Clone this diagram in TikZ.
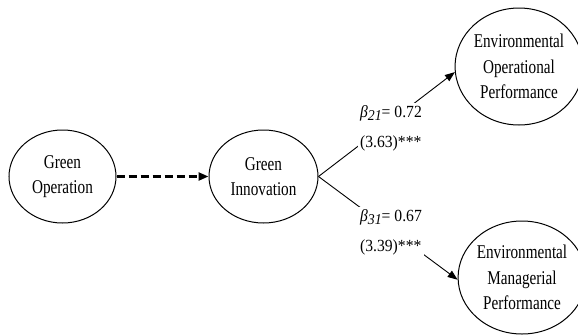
\documentclass[tikz,border=0pt]{standalone}
\usepackage{fontspec}
\setmainfont{Liberation Serif}[FakeStretch=0.78]
\newfontfamily\labfont{Liberation Serif}[FakeStretch=0.92]
\usetikzlibrary{arrows.meta,shapes.geometric}
\begin{document}
\begin{tikzpicture}[x=1pt,y=-1pt,
  var/.style={draw,ellipse,inner sep=0pt,align=center,line width=1pt,
    font=\fontsize{19.5}{25.5}\selectfont},
  lab/.style={fill=white,inner sep=2pt,align=left,
    font=\labfont\fontsize{17}{30}\selectfont},
  conn/.style={-{Triangle[length=10pt,width=7.5pt]},line width=0.9pt},
  dconn/.style={-{Triangle[length=10pt,width=8pt]},line width=2.3pt,dash pattern=on 8pt off 4pt},
]
\useasboundingbox (0,0) rectangle (578,335);
\node[var,minimum width=107pt,minimum height=93pt] (go) at (62.5,176.5) {Green\\Operation};
\node[var,minimum width=109pt,minimum height=93pt] (gi) at (263.5,176.5) {Green\\Innovation};
\node[var,minimum width=117pt,minimum height=117pt] (eop) at (519,66.5) {Environmental\\Operational\\Performance};
\node[var,minimum width=110pt,minimum height=113pt] (emp) at (522,277.5) {Environmental\\Managerial\\Performance};
\draw[dconn] (go.east) -- (gi.west);
\draw[conn] (gi.east) -- (eop.185);
\draw[conn] (gi.east) -- (emp.182);
\node[lab] (l1) at (391,128) {{\itshape β\raisebox{-3pt}{\fontsize{15}{15}\selectfont 21}}= 0.72\\(3.63)***};
\node[lab] (l2) at (391,232) {{\itshape β\raisebox{-3pt}{\fontsize{15}{15}\selectfont 31}}= 0.67\\(3.39)***};
\end{tikzpicture}
\end{document}
